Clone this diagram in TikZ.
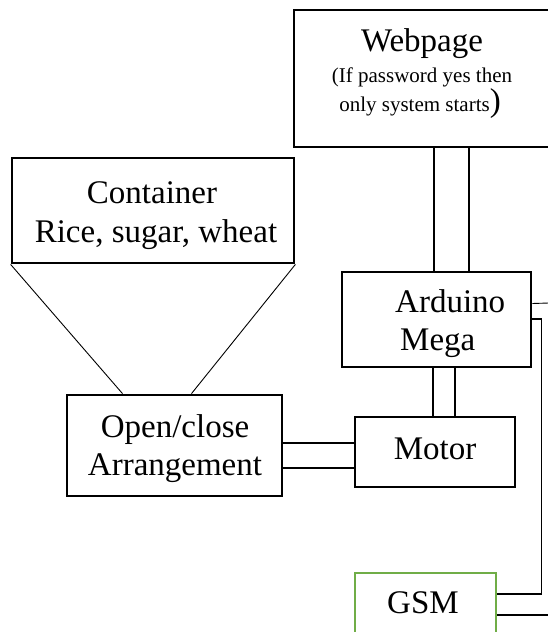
\documentclass[tikz,border=0pt]{standalone}
\usepackage{fontspec}
\setmainfont{Liberation Serif}
\definecolor{gsmgreen}{RGB}{112,173,71}
\tikzset{
  box/.style={draw=black, line width=2.8pt, rectangle, inner sep=0pt},
  gbox/.style={draw=gsmgreen, line width=2pt, rectangle, inner sep=0pt},
  wire/.style={draw=black, line width=1.8pt},
  thin/.style={draw=black, line width=0.9pt},
  big/.style={font=\fontsize{33}{38}\selectfont, inner sep=0pt, align=center},
  small/.style={font=\fontsize{21}{29}\selectfont, inner sep=0pt, align=center}
}
\begin{document}
\begin{tikzpicture}[x=1pt,y=-1pt]
\clip (0,0) rectangle (548,632);
\fill[white] (0,0) rectangle (548,632);
% boxes
\node[box, minimum width=310pt, minimum height=137pt] (web) at (449,78.5) {};
\node[box, minimum width=282pt, minimum height=105pt] (cont) at (153,210.5) {};
\node[box, minimum width=189pt, minimum height=95pt] (ard) at (436.5,319.5) {};
\node[box, minimum width=215pt, minimum height=101pt] (oc) at (174.5,445.5) {};
\node[box, minimum width=160pt, minimum height=70pt] (mot) at (435,452) {};
\node[gbox, minimum width=141pt, minimum height=90pt] (gsm) at (425.5,618) {};
% texts
\node[big, anchor=base] (webt) at (422,51) {Webpage};
\node[small, anchor=base] (webs1) at (422,82) {(If password yes then};
\node[small, anchor=base] (webs2) at (420,111) {only system starts{\fontsize{33}{38}\selectfont)}};
\node[big, anchor=base] (contt) at (152,203) {Container};
\node[big, anchor=base] (conts) at (156,242) {Rice, sugar, wheat};
\node[big, anchor=base west] (ardt) at (395,312) {Arduino};
\node[big, anchor=base west] (ardm) at (400,350) {Mega};
\node[big, anchor=base] (oct) at (175,437) {Open/close};
\node[big, anchor=base] (ocs) at (175,475) {Arrangement};
\node[big, anchor=base] (mott) at (435,459) {Motor};
\node[big, anchor=base] (gsmt) at (423,613) {GSM};
% funnel lines
\draw[thin] (cont.south west) -- ([xshift=-52pt]oc.north);
\draw[thin] (cont.south east) -- ([xshift=17pt]oc.north);
% webpage to arduino
\draw[wire] (web.south -| 434,0) -- (ard.north -| 434,0);
\draw[wire] (web.south -| 469,0) -- (ard.north -| 469,0);
% arduino to motor
\draw[wire] (ard.south -| 433,0) -- (mot.north -| 433,0);
\draw[wire] (ard.south -| 455,0) -- (mot.north -| 455,0);
% motor to open/close
\draw[wire] (mot.west |- 0,443) -- (oc.east |- 0,443);
\draw[wire] (mot.west |- 0,468) -- (oc.east |- 0,468);
% arduino to gsm
\coordinate (c1) at (541.5,319);
\coordinate (c2) at (541.5,594);
\draw[wire] (ard.east |- c1) -- (c1) -- (c2) -- (gsm.east |- c2);
\coordinate (r1) at (549,303);
\draw[thin] (ard.east |- 0,303.5) -- (r1);
\coordinate (r2) at (549,615);
\draw[wire] (gsm.east |- r2) -- (r2);
\end{tikzpicture}
\end{document}
